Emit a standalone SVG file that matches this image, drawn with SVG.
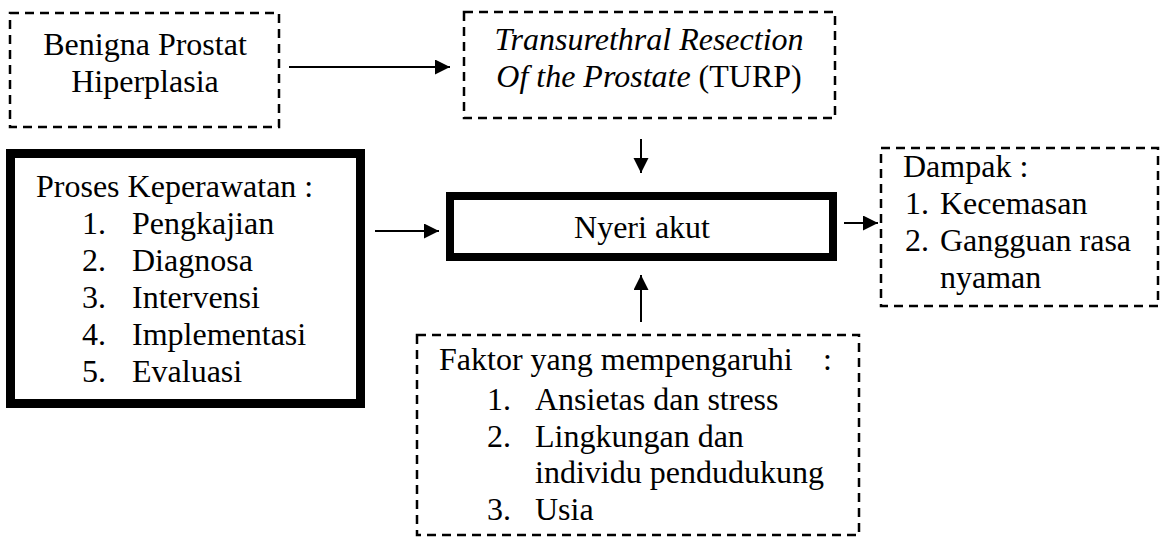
<svg xmlns="http://www.w3.org/2000/svg" width="1165" height="537" viewBox="0 0 1165 537">
<style>
text{font-family:"Liberation Serif","Times New Roman",serif;font-size:32px;fill:#000}
.it{font-style:italic}
.dash{fill:none;stroke:#000;stroke-width:2.5;stroke-dasharray:9 6}
.thick{fill:none;stroke:#000}
.conn{stroke:#000;stroke-width:2;fill:none;marker-end:url(#ah)}
</style>
<defs>
<marker id="ah" markerUnits="userSpaceOnUse" markerWidth="16" markerHeight="16" refX="15" refY="7.5" orient="auto">
<path d="M0,0 L15,7.5 L0,15 Z" fill="#000"/>
</marker>
</defs>
<rect width="1165" height="537" fill="#fff"/>
<g id="node-bph">
<rect class="dash" x="10" y="13" width="269" height="114"/>
<text x="145" y="55" text-anchor="middle">Benigna Prostat</text>
<text x="145" y="92" text-anchor="middle">Hiperplasia</text>
</g>
<g id="node-turp">
<rect class="dash" x="464" y="12" width="371" height="106"/>
<text x="649" y="50" text-anchor="middle" class="it">Transurethral Resection</text>
<text x="649" y="87" text-anchor="middle"><tspan class="it">Of the Prostate</tspan> (TURP)</text>
</g>
<g id="node-proses">
<rect class="thick" x="10.5" y="153.5" width="350" height="250" stroke-width="9"/>
<text x="36" y="197">Proses Keperawatan :</text>
<text x="82" y="234">1.</text><text x="132" y="234">Pengkajian</text>
<text x="82" y="271">2.</text><text x="132" y="271">Diagnosa</text>
<text x="82" y="308">3.</text><text x="132" y="308">Intervensi</text>
<text x="82" y="345">4.</text><text x="132" y="345">Implementasi</text>
<text x="82" y="382">5.</text><text x="132" y="382">Evaluasi</text>
</g>
<g id="node-nyeri">
<rect class="thick" x="450" y="196" width="383" height="61" stroke-width="8"/>
<text x="642" y="238" text-anchor="middle">Nyeri akut</text>
</g>
<g id="node-dampak">
<rect class="dash" x="881" y="148" width="277" height="158"/>
<text x="903" y="177">Dampak :</text>
<text x="905" y="214">1.</text><text x="940" y="214">Kecemasan</text>
<text x="905" y="251">2.</text><text x="940" y="251">Gangguan rasa</text>
<text x="940" y="288">nyaman</text>
</g>
<g id="node-faktor">
<rect class="dash" x="417" y="335" width="442" height="200"/>
<text x="439" y="370">Faktor yang mempengaruhi</text>
<text x="823" y="370">:</text>
<text x="487" y="410">1.</text><text x="535" y="410">Ansietas dan stress</text>
<text x="487" y="447">2.</text><text x="535" y="447">Lingkungan dan</text>
<text x="535" y="483">individu pendudukung</text>
<text x="487" y="520">3.</text><text x="535" y="520">Usia</text>
</g>
<g id="connectors">
<line class="conn" x1="289" y1="67" x2="450" y2="67"/>
<line class="conn" x1="641" y1="139" x2="641" y2="173"/>
<line class="conn" x1="375" y1="231" x2="439" y2="231"/>
<line class="conn" x1="844" y1="223" x2="878" y2="223"/>
<line class="conn" x1="641" y1="322" x2="641" y2="275"/>
</g>
</svg>
